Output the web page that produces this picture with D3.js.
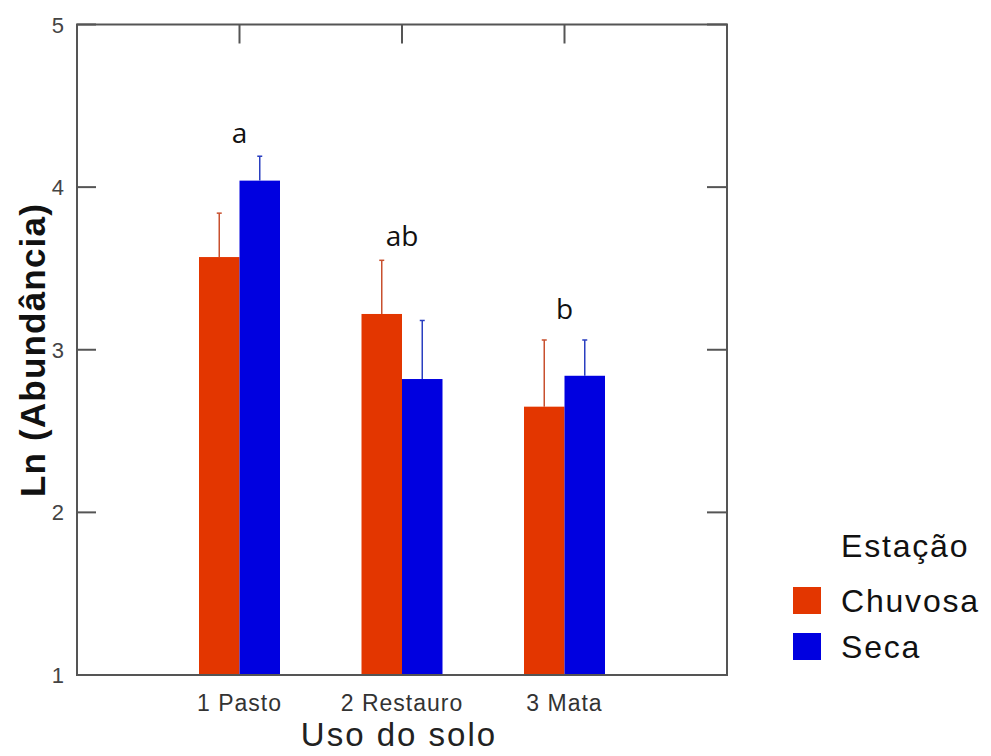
<!DOCTYPE html>
<html><head><meta charset="utf-8">
<script src="https://cdn.jsdelivr.net/npm/d3@7"></script>
<style>body{margin:0;background:#fff}</style>
</head><body>
<svg id="c" width="991" height="756"></svg>
<script>
const categories = ["1 Pasto", "2 Restauro", "3 Mata"];
const seriesNames = ["Chuvosa", "Seca"];
const chuvosa = [3.57, 3.22, 2.65];
const seca = [4.04, 2.82, 2.84];
const chuvosaErr = [0.27, 0.33, 0.41];
const secaErr = [0.15, 0.36, 0.22];
const groupLetters = ["a", "ab", "b"];
const letterY = [4.27, 3.64, 3.19];
const yTicks = [1, 2, 3, 4, 5];
const colors = ["#e33600", "#0000e0"];
const errColors = ["#c8502e", "#2a3fc0"];

const svg = d3.select("#c");
const L = 77, R = 727, T = 24.5, B = 675;
const x = d3.scaleLinear().domain([0, 4]).range([L, R]);
const y = d3.scaleLinear().domain([1, 5]).range([B, T]);
const barW = 40.5;
const SANS = "Liberation Sans, Arial, sans-serif";

const series = [chuvosa, seca];
const errs = [chuvosaErr, secaErr];

series.forEach((vals, s) => {
  svg.append("g").selectAll("rect").data(vals).join("rect")
    .attr("x", (d, i) => x(i + 1) + (s === 0 ? -barW : 0))
    .attr("y", d => y(d))
    .attr("width", barW)
    .attr("height", d => y(1) - y(d))
    .attr("fill", colors[s]);
});
series.forEach((vals, s) => {
  const g = svg.append("g").attr("stroke", errColors[s]).attr("stroke-width", 1.5);
  vals.forEach((v, i) => {
    const cx = x(i + 1) + (s === 0 ? -barW / 2 : barW / 2);
    g.append("line").attr("x1", cx).attr("x2", cx).attr("y1", y(v)).attr("y2", y(v + errs[s][i]));
    g.append("line").attr("x1", cx - 2.5).attr("x2", cx + 2.5).attr("y1", y(v + errs[s][i])).attr("y2", y(v + errs[s][i]));
  });
});

svg.append("rect").attr("x", L).attr("y", T).attr("width", R - L).attr("height", B - T)
  .attr("fill", "none").attr("stroke", "#555").attr("stroke-width", 2);

const tk = svg.append("g").attr("stroke", "#555").attr("stroke-width", 2);
yTicks.forEach(t => {
  tk.append("line").attr("x1", L).attr("x2", L + 19).attr("y1", y(t)).attr("y2", y(t));
  tk.append("line").attr("x1", R).attr("x2", R - 20).attr("y1", y(t)).attr("y2", y(t));
});
categories.forEach((c, i) => {
  tk.append("line").attr("x1", x(i + 1)).attr("x2", x(i + 1)).attr("y1", T).attr("y2", T + 19);
});

svg.append("g").selectAll("text").data(yTicks).join("text")
  .attr("x", 64).attr("y", d => y(d) + 8)
  .attr("text-anchor", "end")
  .attr("font-family", SANS)
  .attr("font-size", 22).attr("fill", "#444")
  .text(d => d);

svg.append("g").selectAll("text").data(categories).join("text")
  .attr("x", (d, i) => x(i + 1)).attr("y", 711)
  .attr("text-anchor", "middle")
  .attr("font-family", SANS).attr("letter-spacing", 1)
  .attr("font-size", 23).attr("fill", "#333")
  .text(d => d);

svg.append("g").selectAll("text").data(groupLetters).join("text")
  .attr("x", (d, i) => x(i + 1)).attr("y", (d, i) => y(letterY[i]))
  .attr("text-anchor", "middle")
  .attr("font-family", "Open Sans, Noto Sans, sans-serif")
  .attr("font-size", 28).attr("fill", "#111")
  .text(d => d);

svg.append("text")
  .attr("transform", "translate(45,350) rotate(-90)")
  .attr("text-anchor", "middle")
  .attr("font-family", SANS).attr("letter-spacing", 1.2)
  .attr("font-size", 35).attr("font-weight", "bold").attr("fill", "#111")
  .text("Ln (Abundância)");
svg.append("text")
  .attr("x", 399).attr("y", 746)
  .attr("text-anchor", "middle")
  .attr("font-family", SANS).attr("letter-spacing", 2)
  .attr("font-size", 33).attr("fill", "#222")
  .text("Uso do solo");

const lg = svg.append("g");
lg.append("text").attr("x", 841).attr("y", 557)
  .attr("font-family", SANS).attr("letter-spacing", 1.8)
  .attr("font-size", 32).attr("fill", "#111").text("Estação");
seriesNames.forEach((n, i) => {
  lg.append("rect").attr("x", 793).attr("y", 587 + i * 46).attr("width", 28).attr("height", 27)
    .attr("fill", colors[i]);
  lg.append("text").attr("x", 841).attr("y", 612 + i * 46)
    .attr("font-family", SANS).attr("letter-spacing", 1.8)
    .attr("font-size", 32).attr("fill", "#111").text(n);
});
</script>
</body></html>
